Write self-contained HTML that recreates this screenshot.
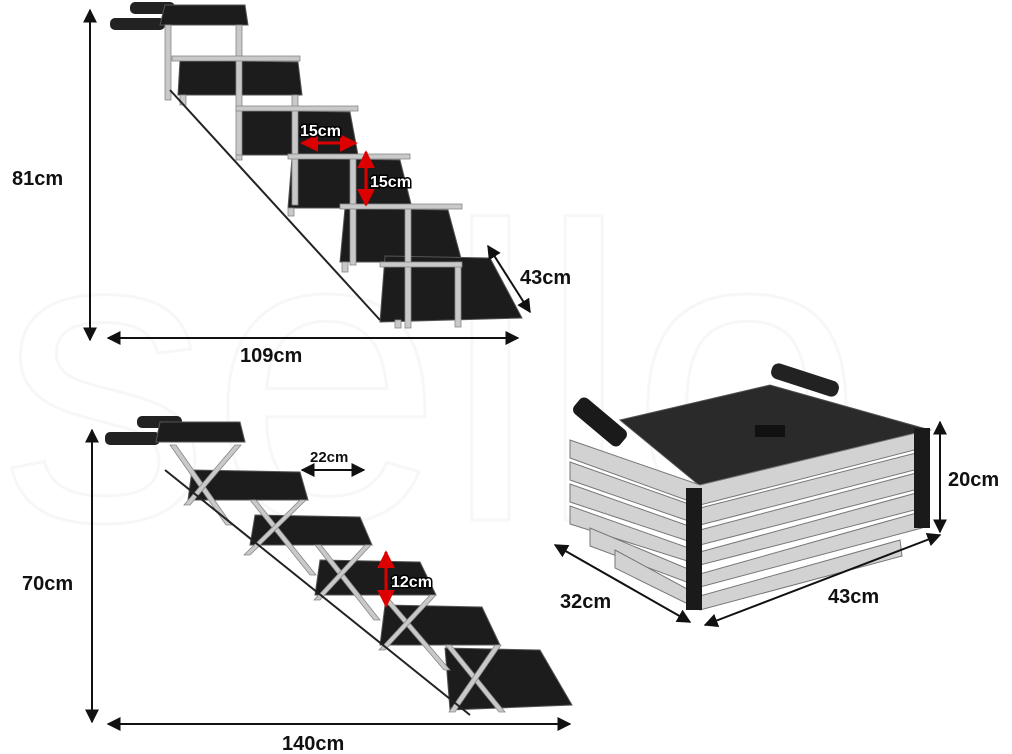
<!DOCTYPE html>
<html><head><meta charset="utf-8"><style>
html,body{margin:0;padding:0;background:#fff;}
svg{display:block}
text{font-family:"Liberation Sans",sans-serif;font-weight:bold;fill:#111}
</style></head><body>
<svg width="1012" height="754" viewBox="0 0 1012 754" xmlns="http://www.w3.org/2000/svg">
<defs>
<marker id="a" viewBox="0 0 10 10" refX="9" refY="5" markerWidth="7" markerHeight="7" orient="auto-start-reverse"><path d="M0,0L10,5L0,10z" fill="#111"/></marker>
<marker id="r" viewBox="0 0 10 10" refX="9" refY="5" markerWidth="6" markerHeight="6" orient="auto-start-reverse"><path d="M0,0L10,5L0,10z" fill="#d00"/></marker>
</defs>
<text x="0" y="520" font-size="420" style="font-weight:normal;fill:none;stroke:#f7f7f7;stroke-width:3">sello</text>

<g>
<rect x="110" y="18" width="55" height="12" rx="5" fill="#222"/>
<rect x="130" y="2" width="45" height="12" rx="5" fill="#222"/>
<g fill="#1c1c1c" stroke="#555" stroke-width="1">
<polygon points="165,5 245,5 248,25 160,25"/>
<polygon points="180,60 298,62 302,95 178,95"/>
<polygon points="240,110 350,112 358,155 236,155"/>
<polygon points="292,158 400,160 412,208 288,208"/>
<polygon points="345,208 448,210 462,262 340,262"/>
<polygon points="385,256 490,258 522,318 380,322"/>
</g>
<g fill="#c9c9c9" stroke="#888" stroke-width="0.8">
<rect x="165" y="25" width="6" height="75"/><rect x="236" y="25" width="6" height="130"/>
<rect x="180" y="95" width="6" height="10"/><rect x="292" y="95" width="6" height="110"/>
<rect x="236" y="155" width="6" height="5"/><rect x="350" y="155" width="6" height="110"/>
<rect x="288" y="208" width="6" height="8"/><rect x="405" y="208" width="6" height="120"/>
<rect x="342" y="262" width="6" height="10"/><rect x="455" y="262" width="6" height="65"/>
<rect x="395" y="320" width="6" height="8"/>
<rect x="172" y="56" width="128" height="5"/><rect x="236" y="106" width="122" height="5"/>
<rect x="288" y="154" width="122" height="5"/><rect x="340" y="204" width="122" height="5"/>
<rect x="380" y="262" width="82" height="5"/>
</g>
<path d="M170,90 L380,320" stroke="#222" stroke-width="2" fill="none"/>
</g>
<line x1="90" y1="10" x2="90" y2="340" stroke="#111" stroke-width="2" marker-start="url(#a)" marker-end="url(#a)"/>
<text x="12" y="185" font-size="20">81cm</text>
<line x1="108" y1="338" x2="518" y2="338" stroke="#111" stroke-width="2" marker-start="url(#a)" marker-end="url(#a)"/>
<text x="240" y="362" font-size="20">109cm</text>
<line x1="488" y1="246" x2="530" y2="312" stroke="#111" stroke-width="2" marker-start="url(#a)" marker-end="url(#a)"/>
<text x="520" y="284" font-size="20">43cm</text>
<line x1="302" y1="143" x2="356" y2="143" stroke="#d00" stroke-width="3" marker-start="url(#r)" marker-end="url(#r)"/>
<text x="300" y="136" font-size="16" style="fill:#fff;stroke:#000;stroke-width:3;paint-order:stroke">15cm</text>
<line x1="366" y1="152" x2="366" y2="205" stroke="#d00" stroke-width="3" marker-start="url(#r)" marker-end="url(#r)"/>
<text x="370" y="187" font-size="16" style="fill:#fff;stroke:#000;stroke-width:3;paint-order:stroke">15cm</text>

<g>
<rect x="105" y="432" width="55" height="13" rx="5" fill="#222"/>
<rect x="137" y="416" width="45" height="12" rx="5" fill="#222"/>
<g fill="#1c1c1c" stroke="#555" stroke-width="1">
<polygon points="160,422 240,422 245,442 156,442"/>
<polygon points="192,470 300,472 308,500 188,500"/>
<polygon points="255,515 360,517 372,545 250,545"/>
<polygon points="320,560 420,562 436,595 315,595"/>
<polygon points="385,605 482,607 500,645 380,645"/>
<polygon points="445,648 540,650 572,705 450,710"/>
</g>
<g fill="#c9c9c9" stroke="#888" stroke-width="0.8">
<polygon points="170,445 176,445 232,525 226,525"/><polygon points="235,445 241,445 190,505 184,505"/>
<polygon points="250,500 256,500 316,575 310,575"/><polygon points="300,500 306,500 250,555 244,555"/>
<polygon points="315,545 321,545 380,620 374,620"/><polygon points="365,545 371,545 320,600 314,600"/>
<polygon points="380,595 386,595 450,670 444,670"/><polygon points="430,595 436,595 385,650 379,650"/>
<polygon points="445,645 451,645 505,712 499,712"/><polygon points="495,645 501,645 455,712 449,712"/>
</g>
<path d="M165,470 L470,715" stroke="#222" stroke-width="2" fill="none"/>
</g>
<line x1="92" y1="430" x2="92" y2="722" stroke="#111" stroke-width="2" marker-start="url(#a)" marker-end="url(#a)"/>
<text x="22" y="590" font-size="20">70cm</text>
<line x1="108" y1="724" x2="570" y2="724" stroke="#111" stroke-width="2" marker-start="url(#a)" marker-end="url(#a)"/>
<text x="282" y="750" font-size="20">140cm</text>
<line x1="302" y1="470" x2="364" y2="470" stroke="#111" stroke-width="2" marker-start="url(#a)" marker-end="url(#a)"/>
<text x="310" y="462" font-size="15">22cm</text>
<line x1="386" y1="552" x2="386" y2="606" stroke="#d00" stroke-width="3" marker-start="url(#r)" marker-end="url(#r)"/>
<text x="391" y="587" font-size="16" style="fill:#fff;stroke:#000;stroke-width:3;paint-order:stroke">12cm</text>

<g>
<rect x="770" y="372" width="70" height="16" rx="7" fill="#222" transform="rotate(18 805 380)"/>
<polygon points="620,420 770,385 930,430 705,490" fill="#2a2a2a" stroke="#555"/>
<g fill="#d2d2d2" stroke="#777" stroke-width="1">
<polygon points="570,440 700,485 920,432 922,448 700,505 570,458"/>
<polygon points="570,462 700,508 920,452 922,468 700,525 570,480"/>
<polygon points="570,484 700,530 920,472 922,488 700,545 570,502"/>
<polygon points="570,506 700,552 920,492 922,508 700,565 570,524"/>
<polygon points="590,528 700,574 920,512 922,528 700,587 590,546"/>
<polygon points="615,550 700,596 900,540 902,556 700,610 615,568"/>
</g>
<g fill="#1a1a1a">
<rect x="686" y="488" width="16" height="122"/>
<rect x="914" y="428" width="16" height="100"/>
</g>
<rect x="570" y="412" width="60" height="20" rx="6" fill="#1a1a1a" transform="rotate(40 600 422)"/>
<rect x="755" y="425" width="30" height="12" fill="#111"/>
</g>
<line x1="940" y1="422" x2="940" y2="532" stroke="#111" stroke-width="2" marker-start="url(#a)" marker-end="url(#a)"/>
<text x="948" y="486" font-size="20">20cm</text>
<line x1="705" y1="625" x2="940" y2="535" stroke="#111" stroke-width="2" marker-start="url(#a)" marker-end="url(#a)"/>
<text x="828" y="603" font-size="20">43cm</text>
<line x1="555" y1="545" x2="690" y2="622" stroke="#111" stroke-width="2" marker-start="url(#a)" marker-end="url(#a)"/>
<text x="560" y="608" font-size="20">32cm</text>
</svg>
</body></html>
